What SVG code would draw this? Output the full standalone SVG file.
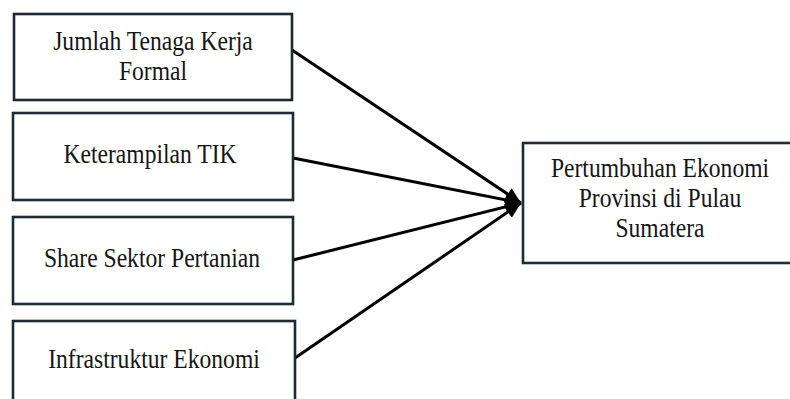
<svg xmlns="http://www.w3.org/2000/svg" width="790" height="399" viewBox="0 0 790 399">
<defs>
<style>
.box{fill:#ffffff;stroke:#1d2b35;stroke-width:2.6}
.t{font-family:"Liberation Serif","Times New Roman",serif;font-size:23.6px;fill:#151515;text-anchor:middle}
.c{stroke:#000;stroke-width:3;fill:none}
</style>
<marker id="ah" markerUnits="userSpaceOnUse" markerWidth="18" markerHeight="16" refX="16" refY="8" orient="auto" viewBox="0 0 18 16">
<path d="M0,1 L16,8 L0,15 Z" fill="#000"/>
</marker>
</defs>
<rect width="790" height="399" fill="#ffffff"/>
<g id="connectors">
<line class="c" x1="292" y1="50" x2="521" y2="203" marker-end="url(#ah)"/>
<line class="c" x1="293" y1="158" x2="521" y2="203" marker-end="url(#ah)"/>
<line class="c" x1="293" y1="260" x2="521" y2="203" marker-end="url(#ah)"/>
<line class="c" x1="295" y1="358" x2="521" y2="203" marker-end="url(#ah)"/>
</g>
<g id="node1">
<rect class="box" x="14" y="14" width="278" height="86"/>
<text class="t" transform="translate(153,50) scale(1,1.12)">Jumlah Tenaga Kerja</text>
<text class="t" transform="translate(153,80) scale(1,1.12)">Formal</text>
</g>
<g id="node2">
<rect class="box" x="13" y="113" width="280" height="87"/>
<text class="t" transform="translate(150,163) scale(1,1.12)">Keterampilan TIK</text>
</g>
<g id="node3">
<rect class="box" x="13" y="217" width="280" height="87"/>
<text class="t" transform="translate(152,267) scale(1,1.12)">Share Sektor Pertanian</text>
</g>
<g id="node4">
<rect class="box" x="13" y="321" width="282" height="100"/>
<text class="t" transform="translate(154,368) scale(1,1.12)">Infrastruktur Ekonomi</text>
</g>
<g id="node5">
<rect class="box" x="523" y="143" width="280" height="120"/>
<text class="t" transform="translate(660,177) scale(1,1.12)">Pertumbuhan Ekonomi</text>
<text class="t" transform="translate(660,207) scale(1,1.12)">Provinsi di Pulau</text>
<text class="t" transform="translate(660,237) scale(1,1.12)">Sumatera</text>
</g>
</svg>
